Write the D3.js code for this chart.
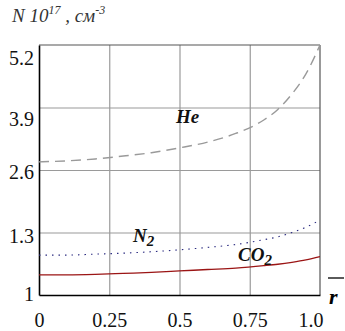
<!DOCTYPE html>
<html>
<head>
<meta charset="utf-8">
<script src="https://cdn.jsdelivr.net/npm/d3@7"></script>
<style>
  body { margin: 0; background: #fff; }
</style>
</head>
<body>
<div id="chart"></div>
<script>
// Data
const rValues = [0, 0.1, 0.2, 0.3, 0.4, 0.5, 0.6, 0.7, 0.8, 0.85, 0.9, 0.95, 1.0];
const heValues = [2.77, 2.79, 2.83, 2.89, 2.96, 3.06, 3.18, 3.36, 3.64, 3.86, 4.18, 4.6, 5.2];
const n2Values = [0.83, 0.83, 0.85, 0.87, 0.9, 0.94, 0.99, 1.05, 1.15, 1.21, 1.3, 1.41, 1.56];
const co2Values = [0.42, 0.42, 0.43, 0.45, 0.47, 0.5, 0.53, 0.56, 0.61, 0.64, 0.68, 0.73, 0.8];

const xTicks = [0, 0.25, 0.5, 0.75, 1.0];
const xTickLabels = ['0', '0.25', '0.5', '0.75', '1.0'];
const yTicks = [0, 1.3, 2.6, 3.9, 5.2];
const yTickLabels = ['1', '1.3', '2.6', '3.9', '5.2'];

const serif = "'Liberation Serif'";

// Dimensions
const width = 345, height = 331;
const margin = { top: 45, right: 25, bottom: 36, left: 39 };
const plotW = width - margin.left - margin.right;
const plotH = height - margin.top - margin.bottom;

const svg = d3.select('#chart')
    .append('svg')
    .attr('width', width)
    .attr('height', height)
    .style('font-family', serif);

const g = svg.append('g')
    .attr('transform', `translate(${margin.left}, ${margin.top})`);

const xScale = d3.scaleLinear().domain([0, 1]).range([0, plotW]);
const yScale = d3.scaleLinear().domain([0, 5.2]).range([plotH, 0]);

// Grid lines
g.append('g')
    .attr('transform', `translate(0, ${plotH})`)
    .call(d3.axisBottom(xScale).tickValues(xTicks.slice(1, -1)).tickSize(-plotH).tickFormat(''))
    .call(a => a.select('.domain').remove())
    .call(a => a.selectAll('line').attr('stroke', '#9a9a9a').attr('stroke-width', 1.2));
g.append('g')
    .call(d3.axisLeft(yScale).tickValues(yTicks.slice(1, -1)).tickSize(-plotW).tickFormat(''))
    .call(a => a.select('.domain').remove())
    .call(a => a.selectAll('line').attr('stroke', '#9a9a9a').attr('stroke-width', 1.2));

// Frame: top / right grey, left / bottom black
g.append('line').attr('x1', 0).attr('x2', plotW).attr('y1', 0).attr('y2', 0)
    .attr('stroke', '#555').attr('stroke-width', 1.2);
g.append('line').attr('x1', plotW).attr('x2', plotW).attr('y1', 0).attr('y2', plotH)
    .attr('stroke', '#555').attr('stroke-width', 1.2);

// X axis labels
const xAxis = g.append('g')
    .attr('transform', `translate(0, ${plotH})`)
    .call(d3.axisBottom(xScale).tickValues(xTicks).tickSize(0).tickPadding(0)
        .tickFormat((d, i) => xTickLabels[i]));
xAxis.select('.domain').attr('stroke', '#000').attr('stroke-width', 1.6);
xAxis.selectAll('text')
    .style('font-family', serif)
    .attr('font-size', 20)
    .attr('fill', '#111')
    .attr('y', 32)
    .attr('dy', 0)
    .attr('text-anchor', (d, i) => i === xTicks.length - 1 ? 'end' : 'middle')
    .attr('dx', (d, i) => i === xTicks.length - 1 ? 3 : 0);

// Y axis labels (the original labels sit slightly off their grid lines)
const yLabelShift = [-2, 3, 1, 11, 12];
const yAxis = g.append('g')
    .call(d3.axisLeft(yScale).tickValues(yTicks).tickSize(0).tickPadding(5)
        .tickFormat((d, i) => yTickLabels[i]));
yAxis.select('.domain').attr('stroke', '#000').attr('stroke-width', 1.6);
yAxis.selectAll('text')
    .style('font-family', serif)
    .attr('font-size', 20)
    .attr('fill', '#111')
    .attr('dy', (d, i) => (7 + yLabelShift[i]) + 'px');

// Curves
const line = d3.line()
    .x((d, i) => xScale(rValues[i]))
    .y(d => yScale(d))
    .curve(d3.curveMonotoneX);

g.append('path')
    .attr('d', line(heValues))
    .attr('fill', 'none')
    .attr('stroke', '#9a9a9a')
    .attr('stroke-width', 1.4)
    .attr('stroke-dasharray', '10,6');

g.append('path')
    .attr('d', line(n2Values))
    .attr('fill', 'none')
    .attr('stroke', '#2b2b80')
    .attr('stroke-width', 1.1)
    .attr('stroke-dasharray', '1.5,5');

g.append('path')
    .attr('d', line(co2Values))
    .attr('fill', 'none')
    .attr('stroke', '#9b1515')
    .attr('stroke-width', 1.3);

// Series labels
const labelStyle = sel => sel
    .style('font-family', serif)
    .attr('font-size', 19)
    .attr('font-weight', 'bold')
    .attr('font-style', 'italic')
    .attr('fill', '#111');

svg.append('text').call(labelStyle)
    .attr('x', 176).attr('y', 123)
    .text('He');

const n2 = svg.append('text').call(labelStyle).attr('x', 133).attr('y', 242);
n2.append('tspan').text('N');
n2.append('tspan').attr('font-size', 15).attr('dy', 4).text('2');

const co2 = svg.append('text').call(labelStyle).attr('x', 238).attr('y', 261);
co2.append('tspan').text('CO');
co2.append('tspan').attr('font-size', 15).attr('dy', 4).text('2');

// Axis title top-left
const title = svg.append('text')
    .attr('x', 12).attr('y', 22)
    .style('font-family', serif)
    .attr('font-size', 19)
    .attr('font-style', 'italic')
    .attr('fill', '#333');
title.append('tspan').text('N 10');
title.append('tspan').attr('font-size', 12).attr('dy', -8).text('17');
title.append('tspan').attr('dy', 8).text(' , см');
title.append('tspan').attr('font-size', 12).attr('dy', -8).text('-3');

// r with bar, bottom right
svg.append('line')
    .attr('x1', 328).attr('x2', 344).attr('y1', 278).attr('y2', 278)
    .attr('stroke', '#000').attr('stroke-width', 1.3);
svg.append('text')
    .attr('x', 329).attr('y', 304)
    .style('font-family', serif)
    .attr('font-size', 22)
    .attr('font-weight', 'bold')
    .attr('font-style', 'italic')
    .attr('fill', '#000')
    .text('r');
</script>
</body>
</html>
